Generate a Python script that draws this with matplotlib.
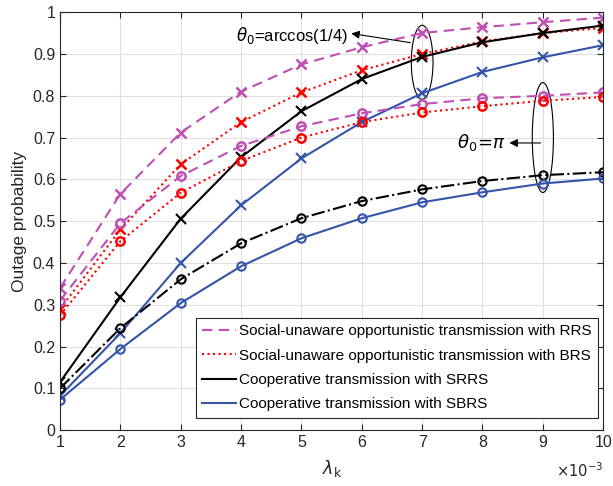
import matplotlib
matplotlib.use('Agg')
import matplotlib.pyplot as plt
import numpy as np
from matplotlib.lines import Line2D
from matplotlib.patches import Ellipse
from matplotlib.ticker import FuncFormatter

plt.rcParams['font.family'] = ['Liberation Sans', 'DejaVu Sans']
plt.rcParams['mathtext.fontset'] = 'dejavusans'

# lambda_k values
lam = [1e-3, 2e-3, 3e-3, 4e-3, 5e-3, 6e-3, 7e-3, 8e-3, 9e-3, 10e-3]

# theta_0 = arccos(1/4)  (x markers)
rrs_acos = [0.34, 0.565, 0.712, 0.81, 0.875, 0.916, 0.95, 0.964, 0.976, 0.987]
brs_acos = [0.29, 0.48, 0.636, 0.737, 0.808, 0.861, 0.90, 0.93, 0.95, 0.962]
srrs_acos = [0.115, 0.318, 0.506, 0.653, 0.763, 0.84, 0.893, 0.928, 0.95, 0.968]
sbrs_acos = [0.082, 0.232, 0.40, 0.538, 0.65, 0.737, 0.806, 0.857, 0.892, 0.921]

# theta_0 = pi  (o markers)
rrs_pi = [0.31, 0.495, 0.608, 0.68, 0.727, 0.758, 0.78, 0.794, 0.80, 0.808]
brs_pi = [0.275, 0.452, 0.568, 0.644, 0.70, 0.737, 0.76, 0.775, 0.788, 0.797]
srrs_pi = [0.10, 0.244, 0.361, 0.447, 0.507, 0.548, 0.576, 0.596, 0.61, 0.617]
sbrs_pi = [0.073, 0.194, 0.304, 0.392, 0.459, 0.507, 0.545, 0.569, 0.59, 0.602]

legend_labels = ['Social-unaware opportunistic transmission with RRS',
                 'Social-unaware opportunistic transmission with BRS',
                 'Cooperative transmission with SRRS',
                 'Cooperative transmission with SBRS']

magenta = '#BF4FB2'
red = '#FF0000'
black = '#000000'
blue = '#3454A8'

fig = plt.figure(figsize=(6.13, 4.86), dpi=100)
ax = fig.add_axes([0.098, 0.115, 0.886, 0.86])

lw = 1.5
ms = 7
ax.plot(lam, rrs_acos, color=magenta, ls=(0, (5, 3)), lw=lw, marker='x', ms=ms, mew=1.8)
ax.plot(lam, brs_acos, color=red, ls=':', lw=lw, marker='x', ms=ms, mew=1.8)
ax.plot(lam, srrs_acos, color=black, ls='-', lw=lw, marker='x', ms=ms, mew=1.5)
ax.plot(lam, sbrs_acos, color=blue, ls='-', lw=lw, marker='x', ms=ms, mew=1.5)

ax.plot(lam, rrs_pi, color=magenta, ls=(0, (5, 3)), lw=lw, marker='o', ms=6, mfc='none', mew=1.8)
ax.plot(lam, brs_pi, color=red, ls=':', lw=lw, marker='o', ms=6, mfc='none', mew=1.8)
ax.plot(lam, srrs_pi, color=black, ls='-.', lw=lw, marker='o', ms=6, mfc='none', mew=1.5)
ax.plot(lam, sbrs_pi, color=blue, ls='-', lw=lw, marker='o', ms=6, mfc='none', mew=1.5)

# ellipses and annotations
ax.add_patch(Ellipse((7e-3, 0.88), 0.36e-3, 0.177, fill=False, ec='black', lw=0.8))
ax.add_patch(Ellipse((9e-3, 0.70), 0.35e-3, 0.263, fill=False, ec='black', lw=0.8))

ax.annotate('', xy=(5.78e-3, 0.95), xytext=(6.85e-3, 0.926),
            arrowprops=dict(arrowstyle='-|>', color='black', lw=0.8, mutation_scale=12))
ax.text(5.77e-3, 0.945, r'$\theta_0$=arccos(1/4)', ha='right', va='center', fontsize=12)
ax.annotate('', xy=(8.4e-3, 0.687), xytext=(9.01e-3, 0.687),
            arrowprops=dict(arrowstyle='-|>', color='black', lw=0.8, mutation_scale=12))
ax.text(8.39e-3, 0.687, r'$\theta_0\!=\!\pi$', ha='right', va='center', fontsize=13)

ax.set_xlim(1e-3, 10e-3)
ax.set_ylim(0, 1)
ax.set_xticks(lam)
ax.set_yticks(np.arange(0, 1.01, 0.1))
ax.xaxis.set_major_formatter(FuncFormatter(lambda v, p: '%g' % round(v * 1e3, 6)))
ax.yaxis.set_major_formatter(FuncFormatter(lambda v, p: '%g' % round(v, 6)))
ax.tick_params(direction='in', top=True, right=True, labelsize=11.5, colors='#262626', length=4)
ax.grid(True, color='#E0E0E0', lw=0.8)
ax.set_axisbelow(True)
for s in ax.spines.values():
    s.set_color('#262626')
    s.set_linewidth(0.8)

ax.text(1.0, -0.075, r'$\times10^{-3}$', transform=ax.transAxes, ha='right', va='top',
        fontsize=10.5, color='#262626')
ax.set_xlabel(r'$\lambda_{\rm k}$', fontsize=12.5, color='#262626', labelpad=6)
ax.set_ylabel('Outage probability', fontsize=12.5, color='#262626')

handles = [Line2D([], [], color=magenta, ls=(0, (5, 3)), lw=lw),
           Line2D([], [], color=red, ls=':', lw=lw),
           Line2D([], [], color=black, ls='-', lw=lw),
           Line2D([], [], color=blue, ls='-', lw=lw)]
leg = ax.legend(handles, legend_labels, loc='lower right', bbox_to_anchor=(0.99, 0.03),
                fontsize=11, fancybox=False, framealpha=1, edgecolor='#262626',
                handlelength=2.2, borderpad=0.4, labelspacing=0.68, handletextpad=0.2,
                borderaxespad=0.0)
leg.get_frame().set_linewidth(0.8)

fig.savefig('out.png', dpi=100)
